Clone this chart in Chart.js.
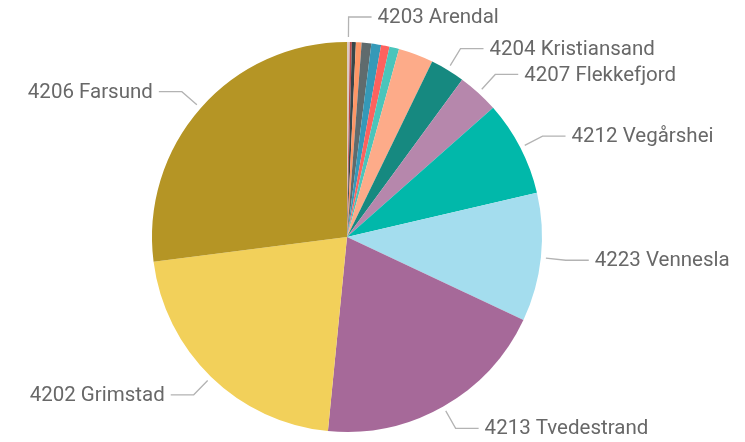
<!DOCTYPE html>
<html><head><meta charset="utf-8">
<script src="https://cdn.jsdelivr.net/npm/chart.js@4/dist/chart.umd.min.js"></script>
<style>html,body{margin:0;padding:0;background:#fff}#w{width:745px;height:442px}</style>
</head><body><div id="w"><canvas id="c" width="745" height="442"></canvas></div>
<script>
const categories = ["4203 Arendal","4201 Risør","4211 Gjerstad","4214 Froland","4215 Lillesand","4216 Birkenes","4225 Lyngdal","4227 Kvinesdal","4205 Lindesnes","4204 Kristiansand","4207 Flekkefjord","4212 Vegårshei","4223 Vennesla","4213 Tvedestrand","4202 Grimstad","4206 Farsund"];
const values = [0.23,0.17,0.33,0.47,0.8,0.8,0.7,0.8,2.9,2.86,3.42,7.89,10.64,19.56,21.42,27.03];
const labeled = ["4203 Arendal","4204 Kristiansand","4207 Flekkefjord","4212 Vegårshei","4223 Vennesla","4213 Tvedestrand","4202 Grimstad","4206 Farsund"];
const colors = ["#DCC9C4","#BB4A4A","#374649","#FE9666","#5F6B6D","#3599B8","#FD625E","#4AC5BB","#FDAB89","#168980","#B687AC","#01B8AA","#A4DDEE","#A66999","#F2D05A","#B59525"];

const leaderPlugin = {
  id: 'leaders',
  afterDatasetsDraw(chart) {
    const ctx = chart.ctx;
    const meta = chart.getDatasetMeta(0);
    ctx.save();
    meta.data.forEach((arc, i) => {
      if (!labeled.includes(categories[i])) return;
      const mid = (arc.startAngle + arc.endAngle) / 2;
      const r = arc.outerRadius;
      const cx = arc.x, cy = arc.y;
      const x0 = cx + Math.cos(mid) * (r + 5), y0 = cy + Math.sin(mid) * (r + 5);
      const x1 = cx + Math.cos(mid) * (r + 25), y1 = cy + Math.sin(mid) * (r + 25);
      const right = Math.cos(mid) >= -0.001;
      const x2 = x1 + (right ? 23 : -23);
      ctx.strokeStyle = '#b3b3b3';
      ctx.lineWidth = 1.3;
      ctx.beginPath();
      ctx.moveTo(x0, y0); ctx.lineTo(x1, y1); ctx.lineTo(x2, y1);
      ctx.stroke();
      ctx.fillStyle = '#686868';
      ctx.font = '20.5px "Roboto", sans-serif';
      ctx.textBaseline = 'middle';
      ctx.textAlign = right ? 'left' : 'right';
      ctx.fillText(categories[i], x2 + (right ? 6 : -6), y1 + 1);
    });
    ctx.restore();
  }
};

new Chart(document.getElementById('c'), {
  type: 'pie',
  data: { labels: categories, datasets: [{ data: values, backgroundColor: colors, borderWidth: 0 }] },
  options: {
    responsive: false,
    animation: false,
    layout: { padding: { left: 100, right: 151, top: 42, bottom: 10 } },
    plugins: { legend: { display: false }, tooltip: { enabled: false } },
    events: []
  },
  plugins: [leaderPlugin]
});
</script></body></html>
